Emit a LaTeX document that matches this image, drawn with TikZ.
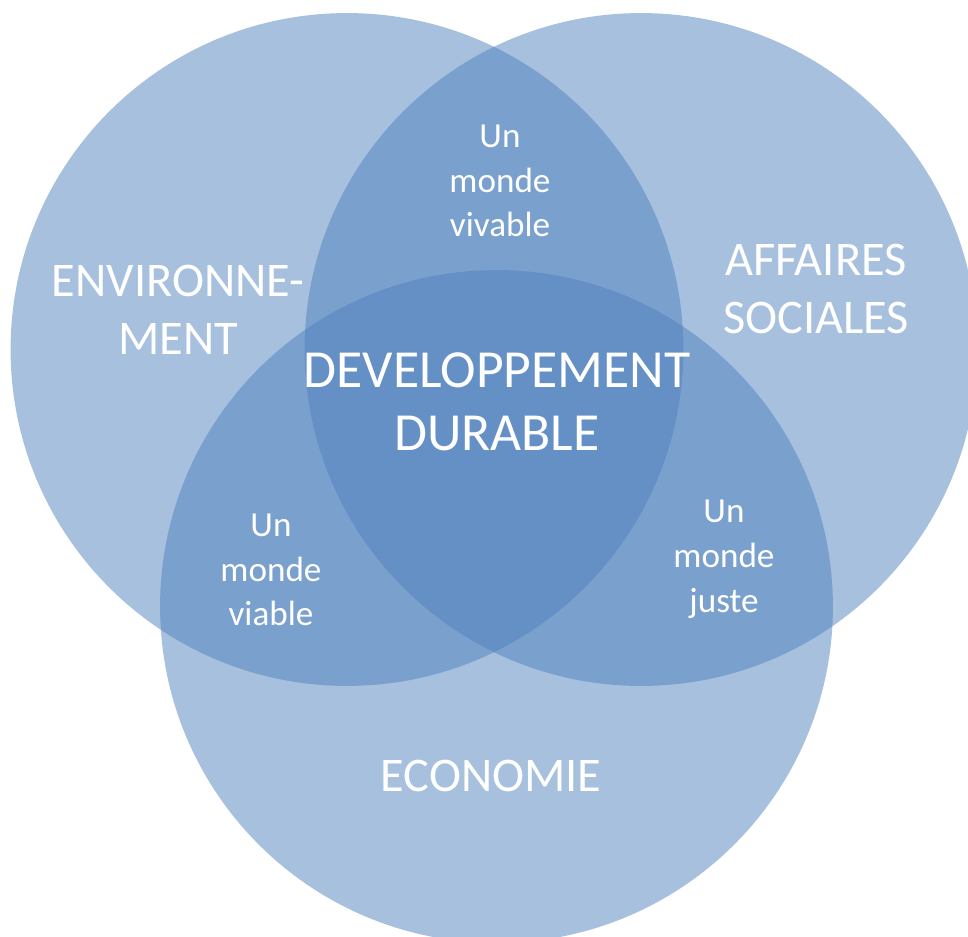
\documentclass[tikz,border=0pt]{standalone}
\usepackage{fontspec}
\setmainfont{Carlito}
\definecolor{vennblue}{RGB}{79,129,189}

\begin{document}
\begin{tikzpicture}[x=0.02cm, y=-0.02cm,
	venn/.style={circle, minimum size=13.46cm, inner sep=0pt, fill=vennblue, fill opacity=0.5},
	biglabel/.style={text=white, align=center, font=\fontsize{27.5}{33}\selectfont},
	midlabel/.style={text=white, align=center, font=\fontsize{30.5}{35.7}\selectfont},
	smalllabel/.style={text=white, align=center, font=\fontsize{20}{25.5}\selectfont}]

\useasboundingbox (0,0) rectangle (968,937);
\clip (0,0) rectangle (968,937);

% ===== three circles =====
\node[venn] (env) at (347,349.5) {};
\node[venn] (soc) at (641,349.5) {};
\node[venn] (eco) at (496.5,606.5) {};

% ===== circle labels =====
\node[biglabel] (envlabel) at (178,310) {ENVIRONNE-\\MENT};
\node[biglabel] (soclabel) at (816,289) {AFFAIRES\\SOCIALES};
\node[biglabel] (ecolabel) at (491,775.5) {ECONOMIE};

% ===== overlaps =====
\node[smalllabel] (vivable) at (500,181) {Un\\monde\\vivable};
\node[smalllabel] (viable) at (271,570) {Un\\monde\\viable};
\node[smalllabel] (juste) at (724,559) {Un\\monde\\juste};
\node[midlabel] (durable) at (497,402) {DEVELOPPEMENT\\DURABLE};

\end{tikzpicture}
\end{document}
